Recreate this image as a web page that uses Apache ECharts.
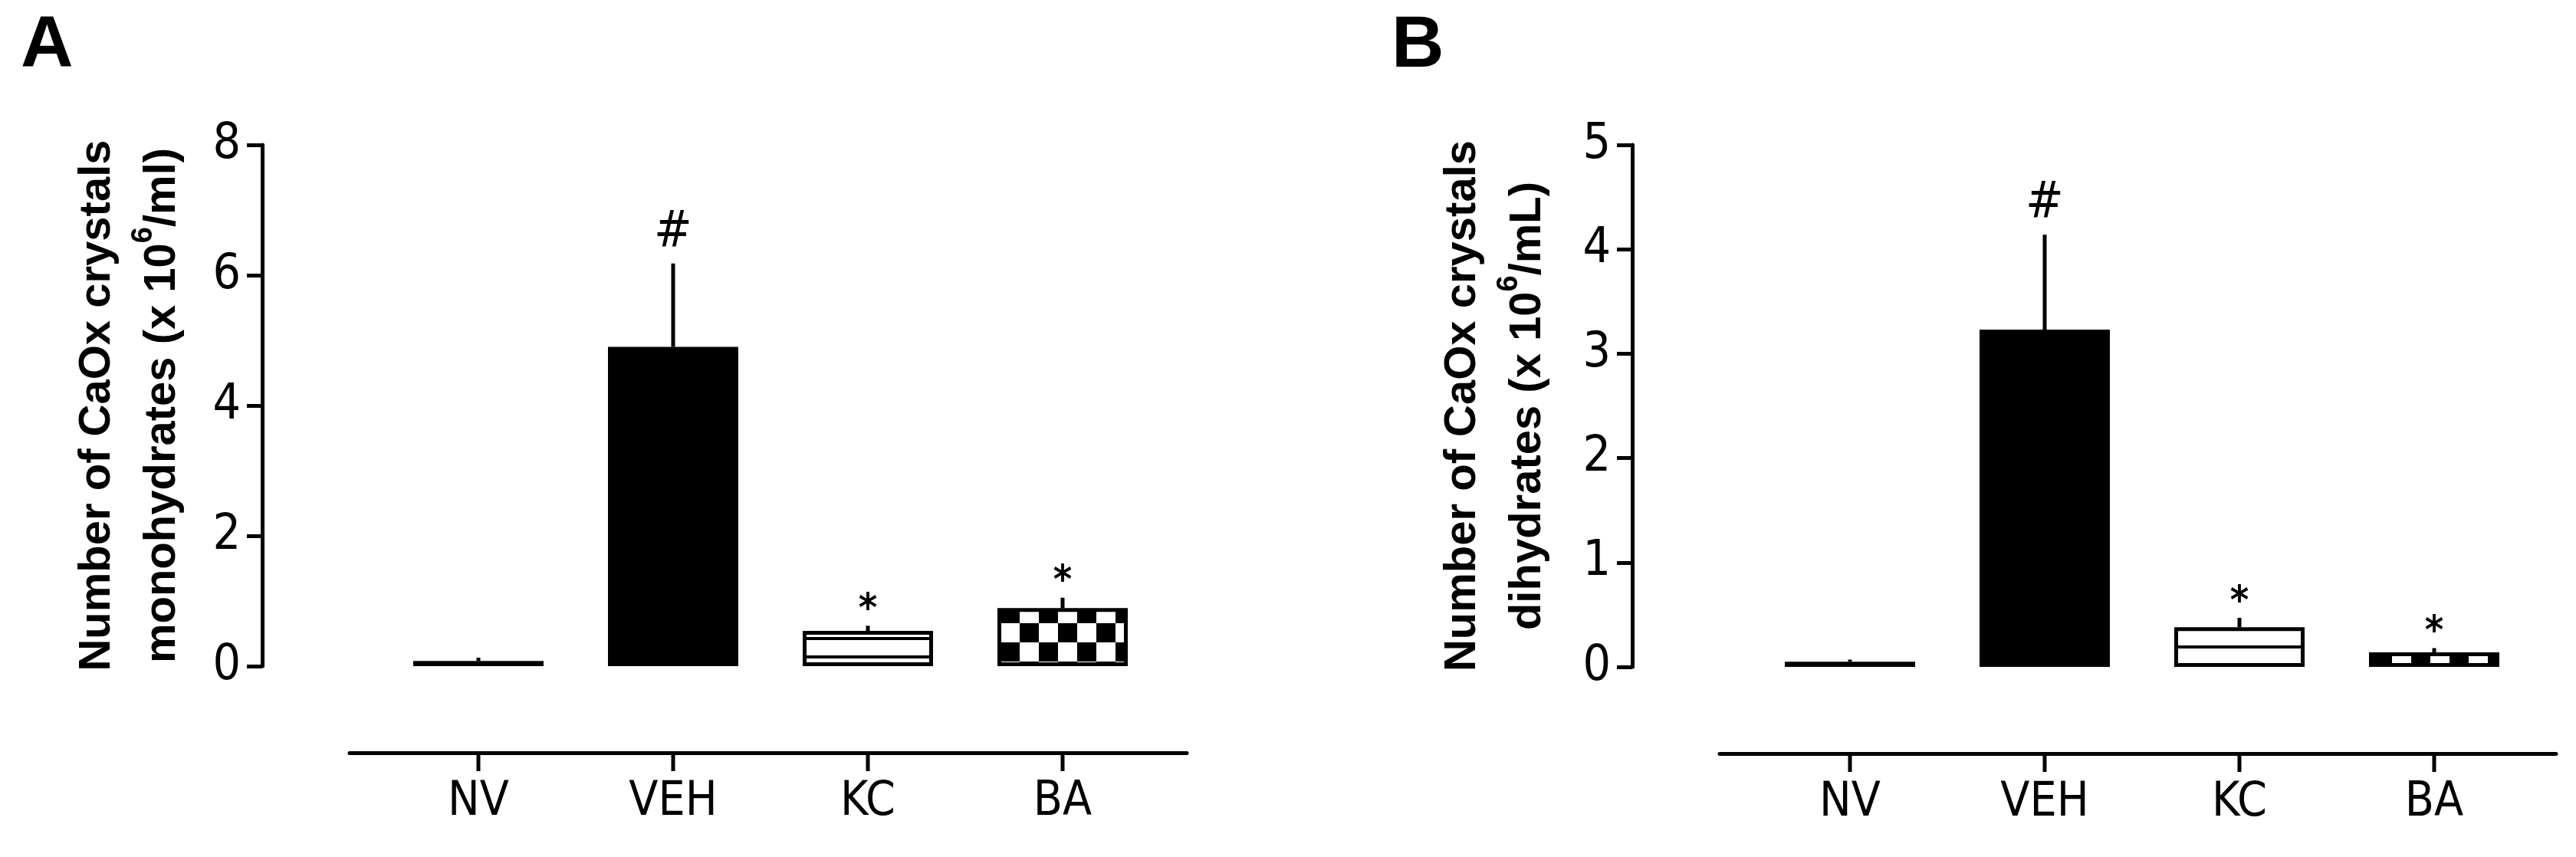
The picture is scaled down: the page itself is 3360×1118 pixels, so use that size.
<!DOCTYPE html>
<html><head><meta charset="utf-8">
<script src="https://cdn.jsdelivr.net/npm/echarts@6/dist/echarts.min.js"></script>
<style>html,body{margin:0;padding:0;background:#fff}#c{width:3360px;height:1118px}</style>
</head><body><div id="c"></div>
<script>
// ---- data ----
const categories = ['NV', 'VEH', 'KC', 'BA'];
const fills = ['white', 'black', 'stripes', 'checker'];
// Panel A: CaOx monohydrates (x 10^6/ml)
const monoMeans = [0.08, 4.90, 0.54, 0.89];
const monoErr   = [0.05, 1.28, 0.08, 0.16];
const monoMarks = ['', '#', '*', '*'];
const monoAxis  = { min: 0, max: 8, interval: 2 };
// Panel B: CaOx dihydrates (x 10^6/mL)
const diMeans = [0.05, 3.23, 0.38, 0.14];
const diErr   = [0.02, 0.91, 0.09, 0.04];
const diMarks = ['', '#', '*', '*'];
const diAxis  = { min: 0, max: 5, interval: 1 };

// ---- patterns (style only) ----
function stripeCanvas(y0) {
  const c = document.createElement('canvas'); c.width = 24; c.height = 24;
  const g = c.getContext('2d');
  g.fillStyle = '#fff'; g.fillRect(0, 0, 24, 24);
  g.fillStyle = '#000'; g.fillRect(0, y0, 24, 4);
  return c;
}
function checkerCanvas(xp, yp) {
  const c = document.createElement('canvas'); c.width = 50; c.height = 50;
  const g = c.getContext('2d');
  g.fillStyle = '#fff'; g.fillRect(0, 0, 50, 50);
  g.fillStyle = '#000';
  for (let i = -1; i < 2; i++) for (let j = -1; j < 2; j++) {
    const x = xp + i * 25, y = yp + j * 25;
    if (((i + j) % 2 + 2) % 2 === 1) g.fillRect(x, y, 25, 25);
  }
  return c;
}
function makeFills(stripeY, cx, cy) {
  return {
    white: '#fff',
    black: '#000',
    stripes: { image: stripeCanvas(stripeY), repeat: 'repeat' },
    checker: { image: checkerCanvas(cx, cy), repeat: 'repeat' }
  };
}
const fillA = makeFills(15, 5, 13);
const fillB = makeFills(2, 20, 0);

const NARROW = '"Liberation Sans Narrow", "Arial Narrow", "DejaVu Sans Condensed", "Liberation Sans", Arial, sans-serif';
const BOLD = '"Liberation Sans", Arial, Helvetica, sans-serif';

function barSeries(xi, yi, means, fs) {
  return {
    type: 'bar', xAxisIndex: xi, yAxisIndex: yi, barWidth: 170, z: 3,
    data: means.map((v, i) => ({
      value: v,
      itemStyle: { color: fs[fills[i]], borderColor: '#000', borderWidth: 5 }
    }))
  };
}
function errSeries(xi, yi, means, errs, marks) {
  return {
    type: 'custom', xAxisIndex: xi, yAxisIndex: yi, z: 2,
    data: categories.map((c, i) => [i, means[i], means[i] + errs[i]]),
    renderItem: function (params, api) {
      const p0 = api.coord([api.value(0), api.value(1)]);
      const p1 = api.coord([api.value(0), api.value(2)]);
      const mark = marks[params.dataIndex];
      const children = [{
        type: 'line',
        shape: { x1: p0[0], y1: p0[1], x2: p1[0], y2: p1[1] },
        style: { stroke: '#000', lineWidth: 5 }
      }];
      if (mark) {
        const isHash = mark === '#';
        children.push({
          type: 'text',
          style: {
            text: mark, x: p1[0], y: p1[1] - (isHash ? 40 : 20),
            align: 'center', verticalAlign: 'middle',
            fontSize: isHash ? 66 : 52, fontFamily: NARROW, fontWeight: isHash ? 'normal' : 'bold', fill: '#000'
          }
        });
      }
      return { type: 'group', children: children };
    }
  };
}
// category tick marks: drawn inside a thin grid directly under the x axis line
function tickSeries(xi, yi) {
  return {
    type: 'custom', xAxisIndex: xi, yAxisIndex: yi, silent: true,
    data: categories.map((c, i) => [i, 1, 0]),
    renderItem: function (params, api) {
      const a = api.coord([api.value(0), api.value(1)]);
      const b = api.coord([api.value(0), api.value(2)]);
      return {
        type: 'line',
        shape: { x1: a[0], y1: a[1], x2: b[0], y2: b[1] },
        style: { stroke: '#000', lineWidth: 5 }
      };
    }
  };
}

function yName(line1, line2a, line2b) {
  return '{b|' + line1 + '}\n{b|' + line2a + '}{s|6}{b|' + line2b + '}';
}
const nameStyle = {
  fontFamily: BOLD, fontWeight: 'bold', fontSize: 58, lineHeight: 85, color: '#000',
  rich: {
    b: { fontFamily: BOLD, fontWeight: 'bold', fontSize: 58, lineHeight: 85, color: '#000' },
    s: { fontFamily: BOLD, fontWeight: 'bold', fontSize: 38, lineHeight: 60, verticalAlign: 'top', color: '#000' }
  }
};

function valueAxis(gi, ax, offset, name, gap) {
  return {
    gridIndex: gi, type: 'value', min: ax.min, max: ax.max, interval: ax.interval,
    offset: offset,
    axisLine: { show: true, lineStyle: { color: '#000', width: 5 } },
    axisTick: { show: true, length: 20, lineStyle: { color: '#000', width: 5 } },
    axisLabel: { fontFamily: NARROW, fontSize: 64, color: '#000', margin: 28 },
    splitLine: { show: false },
    name: name, nameLocation: 'middle', nameRotate: 90, nameGap: gap,
    nameTextStyle: nameStyle
  };
}
// category axis of the bar grid (hidden; used for positioning the bars)
function barCatAxis(gi) {
  return { gridIndex: gi, type: 'category', data: categories, show: false };
}
// visible category labels under the tick grid
function tickCatAxis(gi) {
  return {
    gridIndex: gi, type: 'category', data: categories, position: 'bottom',
    axisLine: { show: false },
    axisTick: { show: false },
    axisLabel: { fontFamily: NARROW, fontSize: 62, color: '#000', margin: 10 },
    splitLine: { show: false }
  };
}
function lineAxis(gi) {
  return {
    gridIndex: gi, type: 'value', min: 0, max: 1,
    axisLine: { show: true, lineStyle: { color: '#000', width: 5 } },
    axisTick: { show: false }, axisLabel: { show: false }, splitLine: { show: false }
  };
}
function hiddenY(gi) {
  return { gridIndex: gi, type: 'value', min: 0, max: 1, show: false, splitLine: { show: false } };
}

const chart = echarts.init(document.getElementById('c'), null, { renderer: 'canvas' });
chart.setOption({
  animation: false,
  backgroundColor: '#fff',
  title: [
    { text: 'A', left: 22, top: 8, textStyle: { fontFamily: BOLD, fontWeight: 'bold', fontSize: 95, color: '#000' } },
    { text: 'B', left: 1810, top: 8, textStyle: { fontFamily: BOLD, fontWeight: 'bold', fontSize: 95, color: '#000' } }
  ],
  grid: [
    { left: 497, top: 189, width: 1016, height: 680 },   // 0: A bars
    { left: 456, top: 900, width: 1092, height: 82 },    // 1: A long axis line
    { left: 497, top: 982, width: 1016, height: 24 },    // 2: A ticks + labels
    { left: 2286, top: 189, width: 1016, height: 681 },  // 3: B bars
    { left: 2243, top: 900, width: 1091, height: 83 },   // 4: B long axis line
    { left: 2286, top: 983, width: 1016, height: 24 }    // 5: B ticks + labels
  ],
  xAxis: [barCatAxis(0), lineAxis(1), tickCatAxis(2), barCatAxis(3), lineAxis(4), tickCatAxis(5)],
  yAxis: [
    valueAxis(0, monoAxis, 155, yName('Number of CaOx crystals', 'monohydrates (x 10', '/ml)'), 88),
    hiddenY(1),
    hiddenY(2),
    valueAxis(3, diAxis, 157, yName('Number of CaOx crystals', 'dihydrates (x 10', '/mL)'), 94),
    hiddenY(4),
    hiddenY(5)
  ],
  series: [
    barSeries(0, 0, monoMeans, fillA),
    errSeries(0, 0, monoMeans, monoErr, monoMarks),
    tickSeries(2, 2),
    barSeries(3, 3, diMeans, fillB),
    errSeries(3, 3, diMeans, diErr, diMarks),
    tickSeries(5, 5)
  ]
});
</script>
</body></html>
